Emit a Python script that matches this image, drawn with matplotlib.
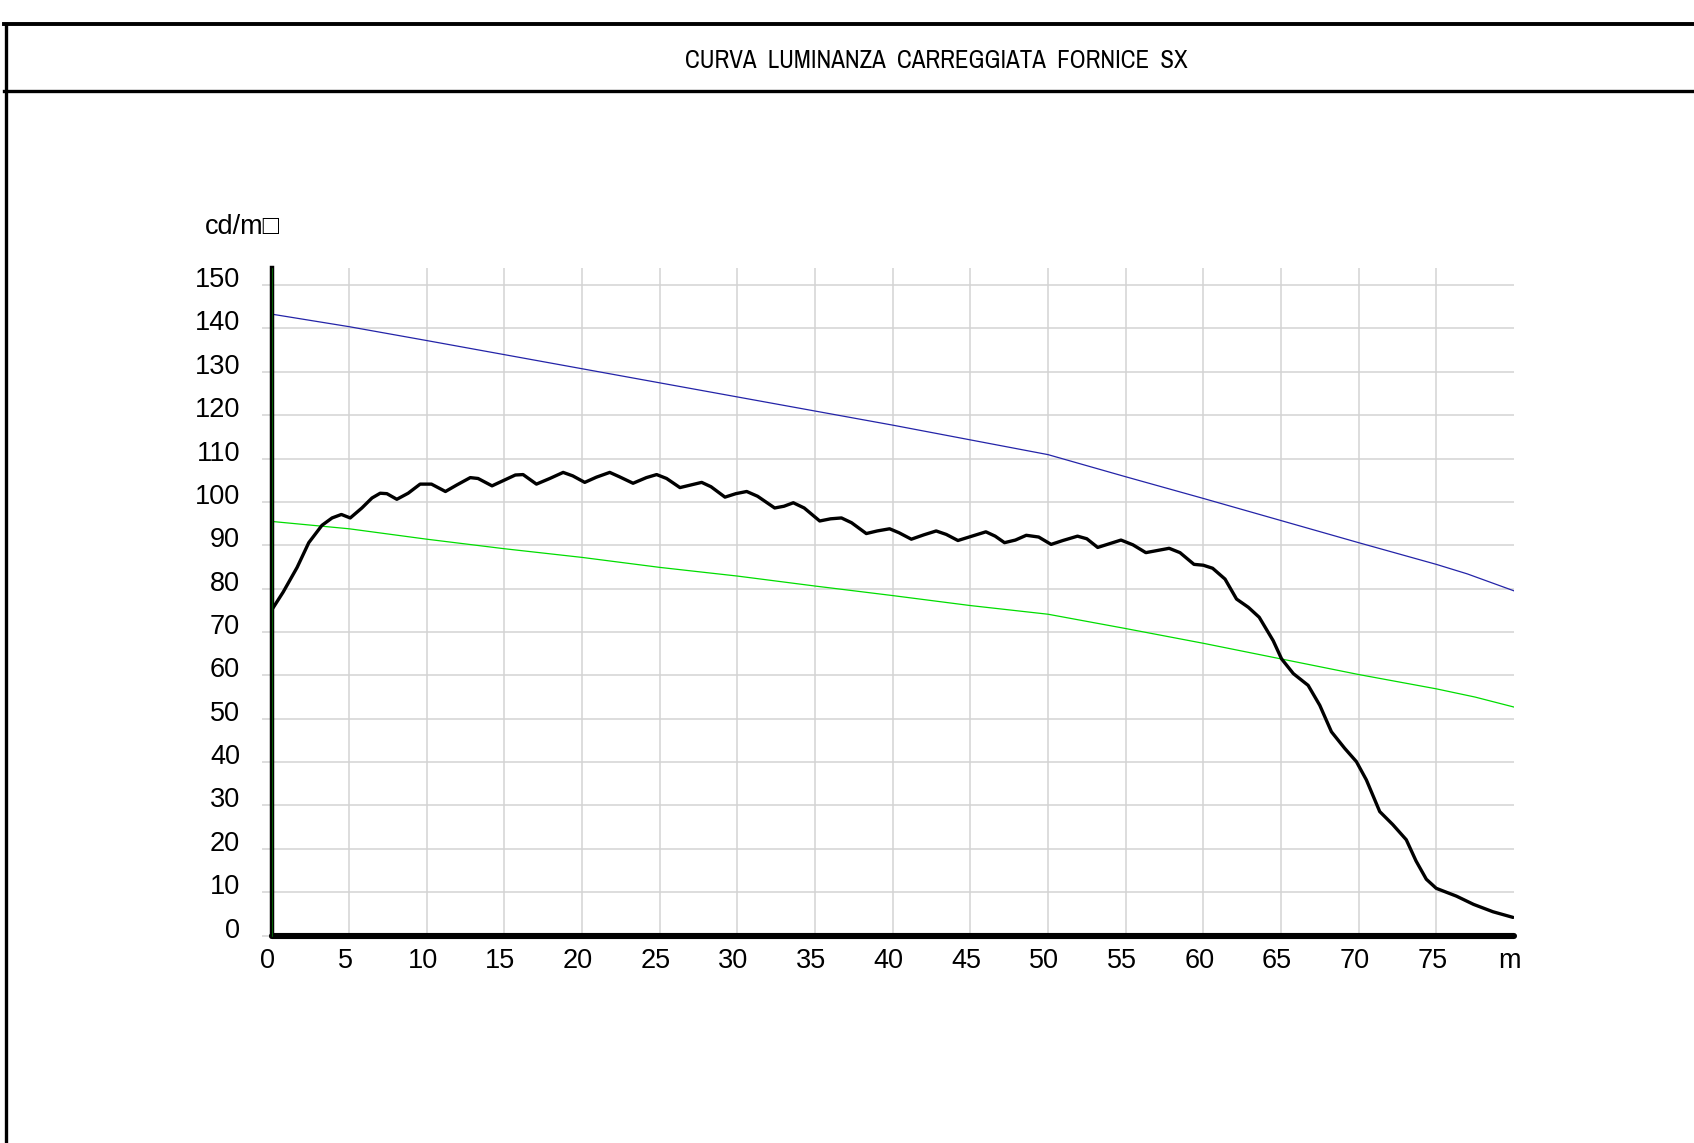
import numpy as np
import matplotlib.pyplot as plt
from matplotlib import font_manager
from matplotlib.font_manager import FontProperties
from matplotlib.lines import Line2D
from matplotlib.transforms import ScaledTranslation

# distance along the tunnel (m) and luminance (cd/m2)
x_curve = [0, 0.75, 1.65, 2.4, 3.25, 3.9, 4.5, 5.07, 5.82, 6.47, 7.0, 7.43, 8.07, 8.8,
           9.57, 10.3, 11.2, 11.93, 12.8, 13.3, 14.2, 14.8, 15.7, 16.2, 17.06, 17.92,
           18.78, 19.4, 20.17, 20.92, 21.78, 22.4, 23.28, 24.14, 24.8, 25.44, 26.3,
           27.0, 27.7, 28.3, 29.2, 29.9, 30.6, 31.3, 32.4, 33.0, 33.6, 34.3, 35.3,
           36.0, 36.7, 37.35, 38.3, 39.0, 39.8, 40.4, 41.2, 42.0, 42.8, 43.45, 44.2,
           45.1, 46.0, 46.6, 47.2, 47.9, 48.6, 49.4, 50.2, 50.96, 51.9, 52.5, 53.2,
           54.7, 55.47, 56.3, 57.8, 58.5, 59.4, 60.0, 60.6, 61.4, 62.14, 62.9, 63.6,
           64.5, 65.04, 65.8, 66.75, 67.5, 68.25, 69.1, 69.86, 70.5, 71.36, 72.2,
           73.07, 73.7, 74.36, 75.0, 76.3, 77.4, 78.65, 79.94]
y_curve = [75.0, 79.2, 84.9, 90.6, 94.6, 96.3, 97.1, 96.3, 98.6, 100.9, 102.0, 101.9,
           100.6, 102.0, 104.1, 104.1, 102.4, 103.9, 105.6, 105.4, 103.7, 104.7,
           106.2, 106.3, 104.1, 105.4, 106.8, 106.0, 104.5, 105.7, 106.8, 105.8,
           104.3, 105.6, 106.3, 105.4, 103.3, 103.9, 104.5, 103.5, 101.1, 101.9,
           102.4, 101.3, 98.6, 99.0, 99.8, 98.6, 95.6, 96.1, 96.3, 95.2, 92.7, 93.3,
           93.8, 92.9, 91.4, 92.4, 93.3, 92.5, 91.1, 92.1, 93.1, 92.1, 90.6, 91.2,
           92.3, 91.9, 90.2, 91.1, 92.1, 91.5, 89.5, 91.2, 90.1, 88.3, 89.3, 88.3,
           85.6, 85.4, 84.7, 82.2, 77.6, 75.7, 73.4, 68.0, 63.8, 60.4, 57.7, 53.1,
           47.0, 43.2, 40.1, 35.9, 28.6, 25.6, 22.1, 17.2, 13.0, 10.9, 9.1, 7.2,
           5.5, 4.2]

x_blue = [0, 5, 10, 20, 30, 40, 50, 55, 60, 65, 70, 75, 77, 80]
y_blue = [143.3, 140.4, 137.2, 130.7, 124.2, 117.7, 110.9, 105.8, 100.8, 95.7,
          90.6, 85.6, 83.4, 79.5]

x_green = [0, 5, 10, 15, 20, 25, 30, 35, 40, 45, 50, 55, 60, 65, 70, 75, 77.5, 80]
y_green = [95.5, 93.8, 91.4, 89.2, 87.2, 84.9, 82.9, 80.6, 78.4, 76.1, 74.1, 70.8,
           67.4, 63.8, 60.2, 56.9, 55.0, 52.7]

x_ticks = list(range(0, 81, 5))
x_labels = [str(v) for v in range(0, 80, 5)] + ['m']
y_ticks = list(range(0, 151, 10))

title = 'CURVA  LUMINANZA  CARREGGIATA  FORNICE  SX'
unit = 'cd/m\u25a1'

# a narrow face for the title if one is installed
title_prop = FontProperties(family='DejaVu Sans')
narrow = [f for f in font_manager.fontManager.ttflist
          if ('Narrow' in f.name or 'Condensed' in f.name
              or f.stretch in ('condensed', 'semi-condensed', 'extra-condensed'))
          and f.weight in (400, 'normal', 'regular') and f.style == 'normal']
if narrow:
    narrow.sort(key=lambda f: ('Narrow' not in f.name, 'Condensed' not in f.name))
    title_prop = FontProperties(fname=narrow[0].fname)
num_font = ['Liberation Sans', 'DejaVu Sans']

W, H = 1694, 1143
fig = plt.figure(figsize=(W / 100, H / 100), dpi=100)

# drawing frame
fig.add_artist(Line2D([4 / W, 1], [1 - 24 / H] * 2, color='black', lw=2.8))
fig.add_artist(Line2D([4 / W, 1], [1 - 91 / H] * 2, color='black', lw=2.4))
fig.add_artist(Line2D([5.5 / W] * 2, [0, 1 - 24 / H], color='black', lw=2.4))
t = fig.text(936 / W, 1 - 61 / H, title, ha='center', va='center',
             fontproperties=title_prop, fontsize=16)
fig.canvas.draw()
w = t.get_window_extent().width
t.set_fontsize(16 * 502 / w)

ax = fig.add_axes([271.5 / W, 207.4 / H, 1242.4 / W, 667.9 / H])
ax.set_xlim(0, 80)
ax.set_ylim(0, 154)
for s in ax.spines.values():
    s.set_visible(False)

grid_c = '#d3d3d3'
ax.vlines(x_ticks[1:-1], 0, 154, color=grid_c, lw=1.1, zorder=1)
ax.hlines(y_ticks, 0, 80, color=grid_c, lw=1.1, zorder=1)

ax.plot(x_blue, y_blue, color='#2424a8', lw=0.9, zorder=3)
ax.plot(x_green, y_green, color='#00dd00', lw=0.9, zorder=3)
ax.plot(x_curve, y_curve, color='black', lw=2.4, zorder=4,
        solid_joinstyle='round', solid_capstyle='round')

# axes drawn as thick lines
ax.plot([0, 0], [0, 154], color='black', lw=3.2, clip_on=False, zorder=5)
ax.plot([0, 0], [0, 154], color='#008800', lw=0.5, clip_on=False, zorder=6)
ax.plot([0, 80], [0, 0], color='black', lw=4.4, clip_on=False, zorder=5,
        solid_capstyle='round')

ax.set_xticks(x_ticks)
ax.set_xticklabels(x_labels, family=num_font, fontsize=19.5)
ax.set_yticks(y_ticks)
ax.set_yticklabels([str(v) for v in y_ticks], family=num_font, fontsize=19.5)
ax.tick_params(axis='x', length=0, pad=9)
ax.tick_params(axis='y', length=7.2, width=1.1, color=grid_c, pad=15.5)

up = ScaledTranslation(0, 0.08, fig.dpi_scale_trans)
for lab in ax.get_yticklabels():
    lab.set_transform(lab.get_transform() + up)
left = ScaledTranslation(-0.04, 0, fig.dpi_scale_trans)
for lab in ax.get_xticklabels():
    lab.set_transform(lab.get_transform() + left)

fig.text(205 / W, 1 - 227 / H, unit, ha='left', va='center',
         family=num_font, fontsize=19.5)

fig.savefig('out.png', dpi=100)
